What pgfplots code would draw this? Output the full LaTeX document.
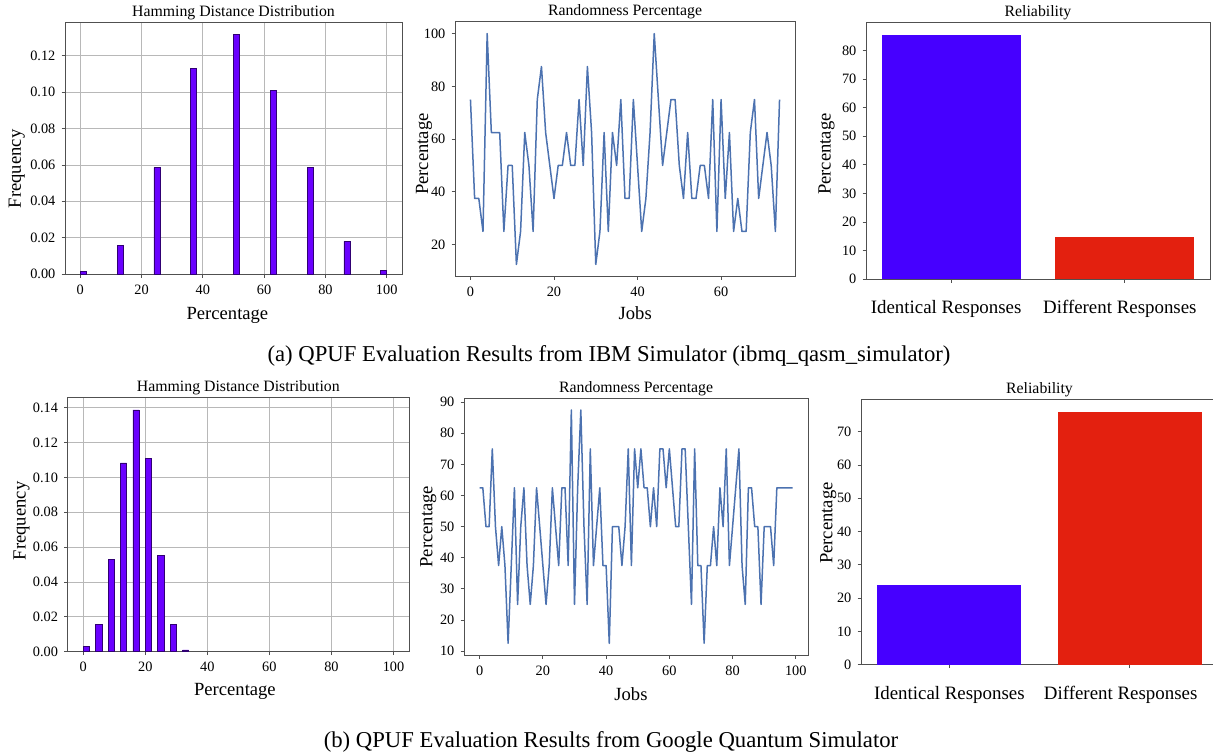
\documentclass[border=0pt]{standalone}
\usepackage{fontspec}
\setmainfont{Liberation Serif}
\usepackage{pgfplots}
\pgfplotsset{compat=1.18}

\definecolor{histc}{HTML}{6A00FF}
\definecolor{relblue}{HTML}{4600FF}
\definecolor{relred}{HTML}{E3200F}
\definecolor{linec}{HTML}{4C72B0}
\definecolor{spine}{HTML}{505050}
\definecolor{gridc}{HTML}{B8B8B8}

\pgfplotsset{
  every axis title shift=0pt,
  panel/.style={
    scale only axis,
    axis line style={spine, line width=1pt},
    tick style={spine, line width=0.8pt},
    tick align=outside,
    major tick length=3.5pt,
    tick pos=left,
    /pgf/number format/assume math mode=true,
    ticklabel style={font=\fontsize{14.3}{16}\selectfont},
    xticklabel style={anchor=base, inner sep=0pt, yshift=-16.7pt},
    yticklabel style={anchor=east, inner sep=0pt, xshift=-6pt},
    label style={font=\fontsize{18.6}{21}\selectfont},
    title style={font=\fontsize{15.8}{18}\selectfont, at={(0.5,1)}, anchor=base, yshift=6pt},
    scaled ticks=false,
  },
  histo/.style={
    panel,
    grid=major,
    major grid style={gridc, line width=0.8pt},
    xmin=-5, xmax=105, ymin=0,
    xtick={0,20,40,60,80,100},
    yticklabel style={/pgf/number format/.cd, fixed, fixed zerofill, precision=2},
  },
  relia/.style={
    panel,
    xmin=-0.49, xmax=1.49, ymin=0,
    xtick={0,1},
    xticklabel style={font=\fontsize{18.9}{21}\selectfont, yshift=-14.3pt},
  },
  histbar/.style={ybar, bar width=2, fill=histc, draw=histc!45!black, line width=0.5pt},
}

\begin{document}
\begin{tikzpicture}
\path[use as bounding box] (0,0) rectangle (1213pt,-755pt);

% ---------- (a) IBM simulator ----------
\begin{axis}[histo, at={(65pt,-274pt)}, anchor=south west,
    width=337pt, height=252pt, ymax=0.1386,
    ytick={0,0.02,0.04,0.06,0.08,0.10,0.12},
    title={Hamming Distance Distribution},
    xlabel={Percentage}, ylabel={Frequency},
    xlabel style={at={(axis description cs:0.482,0)}, anchor=base, yshift=-45.7pt},
    ylabel style={at={([xshift=-44pt]axis description cs:0,0.417)}, anchor=base},
  ]
  \addplot[histbar]
    coordinates {(1,0.0015) (13,0.0157) (25,0.0585) (37,0.113) (51,0.132)
                 (63,0.101) (75,0.0585) (87,0.018) (99,0.002)};
\end{axis}

\begin{axis}[panel, at={(455pt,-276pt)}, anchor=south west,
    width=340pt, height=254pt,
    xmin=-3.7, xmax=77.7, ymin=8.125, ymax=104.375,
    xtick={0,20,40,60}, ytick={20,40,60,80,100},
    title={Randomness Percentage},
    xlabel={Jobs}, ylabel={Percentage},
    xlabel style={at={(axis description cs:0.53,0)}, anchor=base, yshift=-43pt},
    ylabel style={at={([xshift=-27pt]axis description cs:0,0.48)}, anchor=base},
  ]
  \addplot[linec, line width=1.5pt, line join=round] coordinates {
    (0,75) (1,37.5) (2,37.5) (3,25) (4,100) (5,62.5) (6,62.5) (7,62.5) (8,25) (9,50)
    (10,50) (11,12.5) (12,25) (13,62.5) (14,50) (15,25) (16,75) (17,87.5) (18,62.5) (19,50)
    (20,37.5) (21,50) (22,50) (23,62.5) (24,50) (25,50) (26,75) (27,50) (28,87.5) (29,62.5)
    (30,12.5) (31,25) (32,62.5) (33,25) (34,62.5) (35,50) (36,75) (37,37.5) (38,37.5) (39,75)
    (40,50) (41,25) (42,37.5) (43,62.5) (44,100) (45,75) (46,50) (47,62.5) (48,75) (49,75)
    (50,50) (51,37.5) (52,62.5) (53,37.5) (54,37.5) (55,50) (56,50) (57,37.5) (58,75) (59,25)
    (60,75) (61,37.5) (62,62.5) (63,25) (64,37.5) (65,25) (66,25) (67,62.5) (68,75) (69,37.5)
    (70,50) (71,62.5) (72,50) (73,25) (74,75)};
\end{axis}

\begin{axis}[relia, at={(866pt,-279pt)}, anchor=south west,
    width=344pt, height=256pt, ymax=89.7,
    ytick={0,10,20,30,40,50,60,70,80},
    xticklabels={Identical Responses, Different Responses},
    xticklabel style={xshift=-5pt},
    title={Reliability}, ylabel={Percentage},
    ylabel style={at={([xshift=-35.5pt]axis description cs:0,0.488)}, anchor=base},
  ]
  \addplot[ybar, bar width=0.8, fill=relblue, draw=none] coordinates {(0,85.4)};
  \addplot[ybar, bar width=0.8, fill=relred, draw=none] coordinates {(1,14.6)};
\end{axis}

\node[anchor=base, font=\fontsize{22.7}{26}\selectfont] at (609pt,-361pt)
  {(a) QPUF Evaluation Results from IBM Simulator (ibmq\_qasm\_simulator)};

% ---------- (b) Google simulator ----------
\begin{axis}[histo, at={(67.7pt,-651.7pt)}, anchor=south west,
    width=341.3pt, height=254pt, ymax=0.1457,
    ytick={0,0.02,0.04,0.06,0.08,0.10,0.12,0.14},
    title={Hamming Distance Distribution},
    xlabel={Percentage}, ylabel={Frequency},
    xlabel style={at={(axis description cs:0.49,0)}, anchor=base, yshift=-44pt},
    ylabel style={at={([xshift=-42pt]axis description cs:0,0.515)}, anchor=base},
  ]
  \addplot[histbar]
    coordinates {(1,0.0029) (5,0.0157) (9,0.0528) (13,0.1083) (17,0.1387)
                 (21,0.1107) (25,0.0551) (29,0.0157) (33,0.0011)};
\end{axis}

\begin{axis}[panel, at={(464pt,-655pt)}, anchor=south west,
    width=344.3pt, height=256.7pt,
    xmin=-4.95, xmax=103.95, ymin=8.75, ymax=91.25,
    xtick={0,20,40,60,80,100}, ytick={10,20,30,40,50,60,70,80,90},
    title={Randomness Percentage},
    xlabel={Jobs}, ylabel={Percentage},
    xlabel style={at={(axis description cs:0.485,0)}, anchor=base, yshift=-45.7pt},
    ylabel style={at={([xshift=-31.7pt]axis description cs:0,0.5)}, anchor=base},
  ]
  \addplot[linec, line width=1.5pt, line join=round] coordinates {
    (0,62.5) (1,62.5) (2,50) (3,50) (4,75) (5,50) (6,37.5) (7,50) (8,37.5) (9,12.5)
    (10,37.5) (11,62.5) (12,25) (13,50) (14,62.5) (15,37.5) (16,25) (17,37.5) (18,62.5) (19,50)
    (20,37.5) (21,25) (22,37.5) (23,62.5) (24,50) (25,37.5) (26,62.5) (27,62.5) (28,37.5) (29,87.5)
    (30,25) (31,62.5) (32,87.5) (33,50) (34,25) (35,75) (36,37.5) (37,50) (38,62.5) (39,37.5)
    (40,37.5) (41,12.5) (42,50) (43,50) (44,50) (45,37.5) (46,50) (47,75) (48,37.5) (49,75)
    (50,62.5) (51,75) (52,62.5) (53,62.5) (54,50) (55,62.5) (56,50) (57,75) (58,75) (59,62.5)
    (60,75) (61,62.5) (62,50) (63,50) (64,75) (65,75) (66,50) (67,25) (68,75) (69,37.5)
    (70,37.5) (71,12.5) (72,37.5) (73,37.5) (74,50) (75,37.5) (76,62.5) (77,50) (78,75) (79,37.5)
    (80,50) (81,62.5) (82,75) (83,37.5) (84,25) (85,62.5) (86,62.5) (87,50) (88,50) (89,25)
    (90,50) (91,50) (92,50) (93,37.5) (94,62.5) (95,62.5) (96,62.5) (97,62.5) (98,62.5) (99,62.5)};
\end{axis}

\begin{axis}[relia, at={(861pt,-664.7pt)}, anchor=south west,
    width=357pt, height=265.7pt, ymax=79.8,
    ytick={0,10,20,30,40,50,60,70},
    xticklabels={Identical Responses, \hspace*{-18pt}Different Responses},
    title={Reliability}, ylabel={Percentage},
    ylabel style={at={([xshift=-28.7pt]axis description cs:0,0.533)}, anchor=base},
  ]
  \addplot[ybar, bar width=0.8, fill=relblue, draw=none] coordinates {(0,24.0)};
  \addplot[ybar, bar width=0.8, fill=relred, draw=none] coordinates {(1,76.0)};
\end{axis}

\node[anchor=base, font=\fontsize{22.7}{26}\selectfont] at (611pt,-747pt)
  {(b) QPUF Evaluation Results from Google Quantum Simulator};
\end{tikzpicture}
\end{document}
